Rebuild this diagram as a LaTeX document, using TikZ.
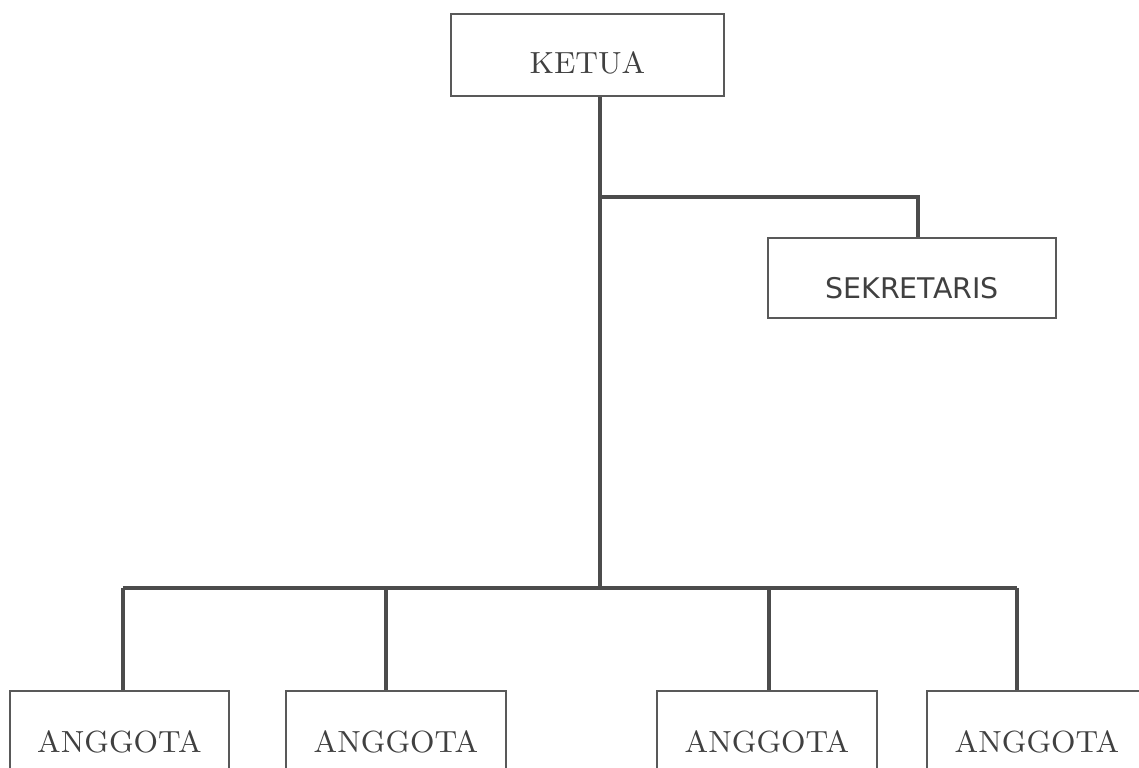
\documentclass[tikz,border=0pt]{standalone}
\usepackage{fontspec}
\newfontfamily\secfont{DejaVu Sans}
\usepackage{tikz}
\usetikzlibrary{positioning}
\tikzset{orgbox/.style = {draw=black!65, line width=0.5pt, rectangle, inner sep=0,
                          text=black!75, font=\fontsize{8.7}{10}\selectfont}}
\tikzset{link/.style = {draw=black!70, line width=0.9pt}}
\tikzset{lowtext/.style = {text height=#1, text depth=0.04cm}}

\begin{document}
\begin{tikzpicture}
      \useasboundingbox (0, 0) rectangle (11.39, -7.67);
      \clip (0, 0) rectangle (11.39, -7.67);

      \node [orgbox, lowtext=0.40cm, minimum width=2.73cm, minimum height=0.82cm] (ketua) at (5.875, -0.55) {KETUA};
      \node [orgbox, lowtext=0.44cm, minimum width=2.88cm, minimum height=0.80cm, font=\secfont\fontsize{8.1}{10}\selectfont] (sekr) at (9.12, -2.78) {SEKRETARIS};

      \node [orgbox, minimum width=2.19cm, minimum height=1.02cm] (a1) at (1.195, -7.42) {ANGGOTA};
      \node [orgbox, minimum width=2.20cm, minimum height=1.02cm] (a2) at (3.96, -7.42) {ANGGOTA};
      \node [orgbox, minimum width=2.20cm, minimum height=1.02cm] (a3) at (7.67, -7.42) {ANGGOTA};
      \node [orgbox, minimum width=2.20cm, minimum height=1.02cm] (a4) at (10.37, -7.42) {ANGGOTA};

      \coordinate (split) at (6.00, -1.97);
      \coordinate (hub) at (6.00, -5.88);
      \coordinate (d1) at (1.23, -5.88);
      \coordinate (d2) at (3.86, -5.88);
      \coordinate (d3) at (7.69, -5.88);
      \coordinate (d4) at (10.17, -5.88);
      \coordinate (ds) at (9.18, -1.97);

      \draw [link] (ketua.south -| hub) -- (hub);
      \draw [link] (split) -- (ds) -- (ds |- sekr.north);
      \draw [link] (d1) -- (d4);
      \draw [link] (d1) -- (d1 |- a1.north);
      \draw [link] (d2) -- (d2 |- a2.north);
      \draw [link] (d3) -- (d3 |- a3.north);
      \draw [link] (d4) -- (d4 |- a4.north);
    \end{tikzpicture}
\end{document}
